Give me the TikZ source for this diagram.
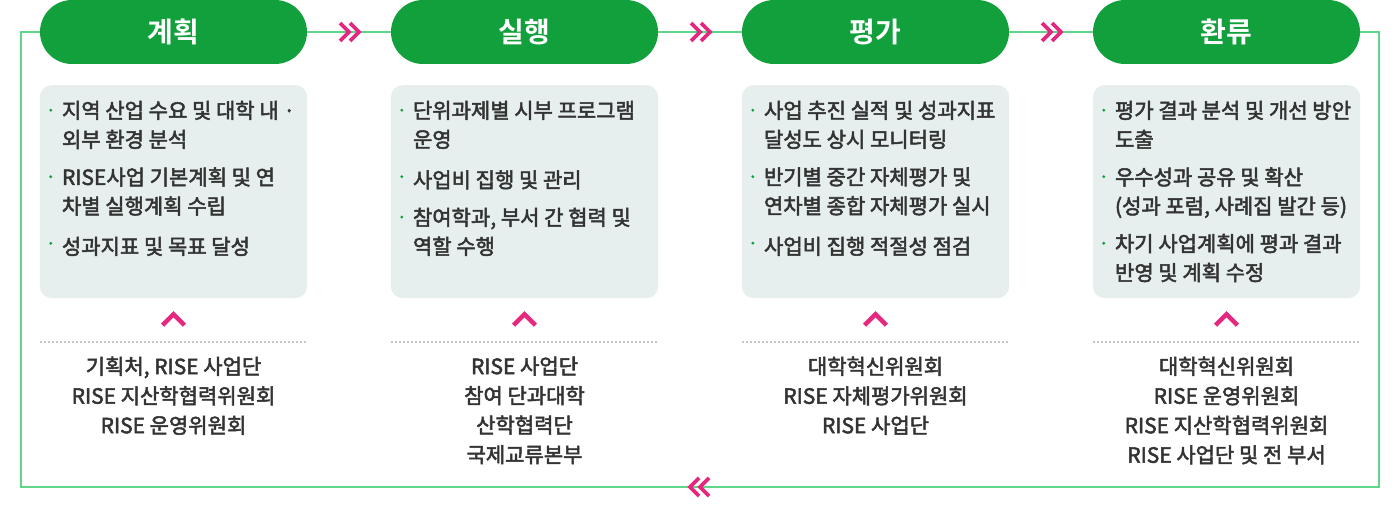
\documentclass[tikz,border=0pt]{standalone}
\usepackage{fontspec}
\newfontfamily\krbody{Noto Sans CJK KR}[FakeBold=2.4]
\newfontfamily\krbold{Noto Sans CJK KR}[UprightFont={* Bold}]
\usetikzlibrary{positioning,calc}

\definecolor{pillgreen}{HTML}{12A03C}
\definecolor{loopgreen}{HTML}{5FD68A}
\definecolor{chevpink}{HTML}{E5287D}
\definecolor{boxgray}{HTML}{E6EFEE}
\definecolor{txtgray}{HTML}{333333}
\definecolor{dotgray}{HTML}{C6C6C6}

\tikzset{
 pill/.style={fill=pillgreen,text=white,rounded corners=32pt,minimum width=267pt,
  minimum height=64pt,inner sep=0pt,font=\krbold\fontsize{28}{32}\selectfont},
 panel/.style={fill=boxgray,rounded corners=12pt},
 item/.style={anchor=north west,inner sep=0pt,align=left,text=txtgray,
  font=\krbody\fontsize{21}{29}\selectfont,
  execute at begin node={\fontsize{21}{29}\selectfont\strut},
  execute at end node=\strut},
 org/.style={anchor=north,inner sep=0pt,align=center,text=txtgray,
  font=\krbody\fontsize{21}{29.5}\selectfont,
  execute at begin node={\fontsize{21}{29.5}\selectfont\strut},
  execute at end node=\strut},
 loopline/.style={draw=loopgreen,line width=2pt},
 chev/.style={draw=chevpink,line width=3.8pt,line cap=butt,line join=miter},
 dchev/.pic={\draw[chev] (-9,-9) -- (0,0) -- (-9,9) (1,-9) -- (10,0) -- (1,9);}
}

\begin{document}
\begin{tikzpicture}[x=1pt,y=-1pt]
\fill[white] (0,0) rectangle (1400,508);
\useasboundingbox (0,0) rectangle (1400,508);

% stage pills
\foreach \c/\ttl in {0/계획,1/실행,2/평가,3/환류}{
 \node[pill] (p\c) at ({173.5+351*\c},32) {\ttl};
 \fill[panel] ($(p\c.south west)+(0,21)$) rectangle ($(p\c.south east)+(0,234)$);
 \draw[chev,line width=4.5pt] ($(p\c.south)+(-11,261)$) -- ++(11,-11) -- ++(11,11);
 \draw[dotgray,line width=2pt,dash pattern=on 2pt off 2pt]
  ($(p\c.south west)+(0,278)$) -- ($(p\c.south east)+(0,278)$);
}

% loop around the stages
\coordinate (lt) at (21,32);
\coordinate (lb) at (21,487);
\coordinate (rb) at (1379,487);
\coordinate (rt) at (1379,32);
\draw[loopline] (p0.west) -- (lt) -- (lb) -- (rb) pic[pos=.5,xscale=-1]{dchev} -- (rt) -- (p3.east);
\foreach \a/\b in {0/1,1/2,2/3}{
 \draw[loopline] (p\a.east) -- (p\b.west) pic[pos=.5]{dchev};
}

% tasks and bodies
\foreach \c/\ia/\ib/\ic/\org in {
 0/{지역 산업 수요 및 대학 내 ·\\외부 환경 분석}/{RISE사업 기본계획 및 연\\차별 실행계획 수립}/{성과지표 및 목표 달성}/{기획처, RISE 사업단\\RISE 지산학협력위원회\\RISE 운영위원회},
 1/{단위과제별 시부 프로그램\\운영}/{사업비 집행 및 관리}/{참여학과, 부서 간 협력 및\\역할 수행}/{RISE 사업단\\참여 단과대학\\산학협력단\\국제교류본부},
 2/{사업 추진 실적 및 성과지표\\달성도 상시 모니터링}/{반기별 중간 자체평가 및\\연차별 종합 자체평가 실시}/{사업비 집행 적절성 점검}/{대학혁신위원회\\RISE 자체평가위원회\\RISE 사업단},
 3/{평가 결과 분석 및 개선 방안\\도출}/{우수성과 공유 및 확산\\(성과 포럼, 사례집 발간 등)}/{차기 사업계획에 평과 결과\\반영 및 계획 수정}/{대학혁신위원회\\RISE 운영위원회\\RISE 지산학협력위원회\\RISE 사업단 및 전 부서}}{
 \node[item] (i\c-1) at ($(p\c.south west)+(22,36.5)$) {\ia};
 \node[item,below=11pt of i\c-1.south west,anchor=north west] (i\c-2) {\ib};
 \node[item,below=11pt of i\c-2.south west,anchor=north west] (i\c-3) {\ic};
 \foreach \k in {1,2,3}{
  \fill[pillgreen] ($(i\c-\k.north west)+(-11,9.5)$) circle (1.6);
 }
 \node[org] (o\c) at ($(p\c.south)+(0,292.3)$) {\org};
}
\end{tikzpicture}
\end{document}
